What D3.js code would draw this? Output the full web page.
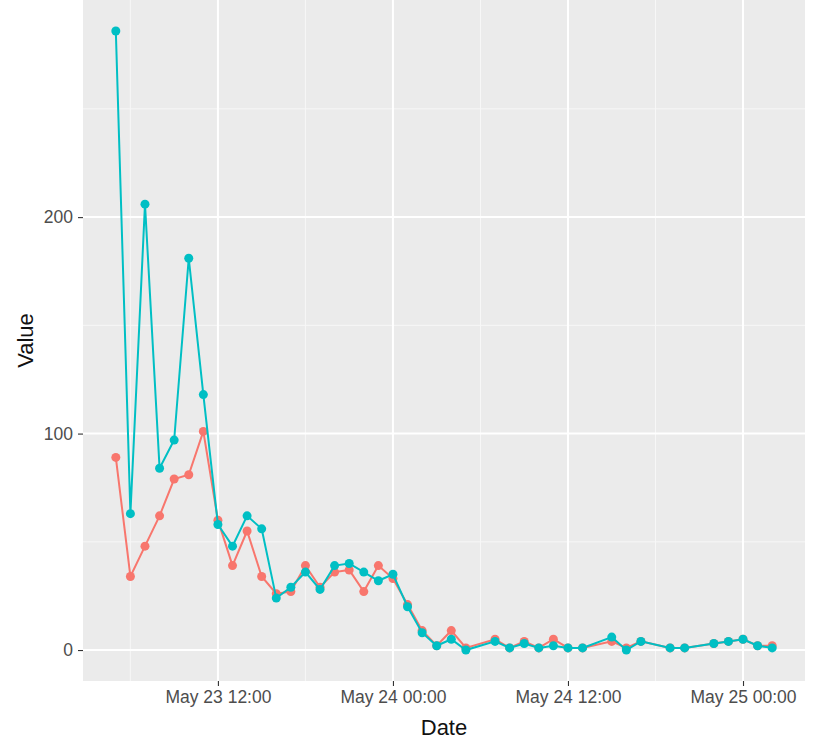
<!DOCTYPE html>
<html>
<head>
<meta charset="utf-8">
<script src="https://cdn.jsdelivr.net/npm/d3@7"></script>
<style>
  body { margin: 0; background: #fff; }
  svg { display: block; font-family: "Liberation Sans", Arial, sans-serif; }
</style>
</head>
<body>
<script>
var width = 813, height = 742;

// hourly readings, a few hours are missing
var times = [
  "2019-05-23 05:00", "2019-05-23 06:00", "2019-05-23 07:00", "2019-05-23 08:00",
  "2019-05-23 09:00", "2019-05-23 10:00", "2019-05-23 11:00", "2019-05-23 12:00",
  "2019-05-23 13:00", "2019-05-23 14:00", "2019-05-23 15:00", "2019-05-23 16:00",
  "2019-05-23 17:00", "2019-05-23 18:00", "2019-05-23 19:00", "2019-05-23 20:00",
  "2019-05-23 21:00", "2019-05-23 22:00", "2019-05-23 23:00", "2019-05-24 00:00",
  "2019-05-24 01:00", "2019-05-24 02:00", "2019-05-24 03:00", "2019-05-24 04:00",
  "2019-05-24 05:00", "2019-05-24 07:00", "2019-05-24 08:00", "2019-05-24 09:00",
  "2019-05-24 10:00", "2019-05-24 11:00", "2019-05-24 12:00", "2019-05-24 13:00",
  "2019-05-24 15:00", "2019-05-24 16:00", "2019-05-24 17:00", "2019-05-24 19:00",
  "2019-05-24 20:00", "2019-05-24 22:00", "2019-05-24 23:00", "2019-05-25 00:00",
  "2019-05-25 01:00", "2019-05-25 02:00"
];
var seriesRed = [
  89, 34, 48, 62, 79, 81, 101, 60, 39, 55, 34, 26, 27, 39, 29, 36, 37, 27, 39, 33,
  21, 9, 2, 9, 1, 5, 1, 4, 1, 5, 1, 1, 4, 1, 4, 1, 1, 3, 4, 5, 2, 2
];
var seriesTeal = [
  286, 63, 206, 84, 97, 181, 118, 58, 48, 62, 56, 24, 29, 36, 28, 39, 40, 36, 32, 35,
  20, 8, 2, 5, 0, 4, 1, 3, 1, 2, 1, 1, 6, 0, 4, 1, 1, 3, 4, 5, 2, 1
];
var colors = ["#F8766D", "#00BFC4"];
var yTicks = [0, 100, 200];
var yMinor = [50, 150, 250];

var parse = d3.utcParse("%Y-%m-%d %H:%M");
var dates = times.map(parse);
var series = [seriesRed, seriesTeal].map(function(vals, i) {
  return { color: colors[i], points: vals.map(function(v, j) { return { t: dates[j], v: v }; }) };
});

var panel = { left: 83, top: 0, right: 805, bottom: 681 };

// ggplot style 5% expansion
var tExt = d3.extent(dates);
var tPad = (tExt[1] - tExt[0]) * 0.05;
var allVals = seriesRed.concat(seriesTeal);
var vExt = d3.extent(allVals);
var vPad = (vExt[1] - vExt[0]) * 0.05;

var x = d3.scaleUtc()
  .domain([new Date(+tExt[0] - tPad), new Date(+tExt[1] + tPad)])
  .range([panel.left, panel.right]);
var y = d3.scaleLinear()
  .domain([vExt[0] - vPad, vExt[1] + vPad])
  .range([panel.bottom, panel.top]);

var svg = d3.select("body").append("svg")
  .attr("width", width)
  .attr("height", height);

svg.append("rect")
  .attr("x", panel.left).attr("y", panel.top)
  .attr("width", panel.right - panel.left)
  .attr("height", panel.bottom - panel.top)
  .attr("fill", "#EBEBEB");

var xMajor = d3.utcHour.every(12).range(x.domain()[0], x.domain()[1]);
var xMinor = xMajor.map(function(d) { return d3.utcHour.offset(d, -6); })
  .filter(function(d) { return d >= x.domain()[0]; });
xMinor.push(d3.utcHour.offset(xMajor[xMajor.length - 1], 6));
xMinor = xMinor.filter(function(d) { return d <= x.domain()[1]; });

var grid = svg.append("g");
grid.selectAll("line.minx").data(xMinor).enter().append("line")
  .attr("x1", function(d) { return x(d); }).attr("x2", function(d) { return x(d); })
  .attr("y1", panel.top).attr("y2", panel.bottom)
  .attr("stroke", "#F7F7F7").attr("stroke-width", 1);
grid.selectAll("line.miny").data(yMinor).enter().append("line")
  .attr("y1", function(d) { return y(d); }).attr("y2", function(d) { return y(d); })
  .attr("x1", panel.left).attr("x2", panel.right)
  .attr("stroke", "#F7F7F7").attr("stroke-width", 1);
grid.selectAll("line.majx").data(xMajor).enter().append("line")
  .attr("x1", function(d) { return x(d); }).attr("x2", function(d) { return x(d); })
  .attr("y1", panel.top).attr("y2", panel.bottom)
  .attr("stroke", "#fff").attr("stroke-width", 2);
grid.selectAll("line.majy").data(yTicks).enter().append("line")
  .attr("y1", function(d) { return y(d); }).attr("y2", function(d) { return y(d); })
  .attr("x1", panel.left).attr("x2", panel.right)
  .attr("stroke", "#fff").attr("stroke-width", 2);

// axes
var xAxis = svg.append("g")
  .attr("transform", "translate(0," + panel.bottom + ")")
  .call(d3.axisBottom(x).tickValues(xMajor).tickFormat(d3.utcFormat("%b %d %H:%M"))
    .tickSize(5).tickPadding(5));
var yAxis = svg.append("g")
  .attr("transform", "translate(" + panel.left + ",0)")
  .call(d3.axisLeft(y).tickValues(yTicks).tickSize(5).tickPadding(5));

[xAxis, yAxis].forEach(function(ax) {
  ax.select(".domain").remove();
  ax.selectAll(".tick line").attr("stroke", "#333").attr("stroke-width", 1.1);
  ax.selectAll(".tick text").attr("fill", "#4D4D4D")
    .style("font-size", "17.5px").style("font-family", "'Liberation Sans', Arial, sans-serif");
});

svg.append("text")
  .attr("x", (panel.left + panel.right) / 2)
  .attr("y", 735)
  .attr("text-anchor", "middle")
  .style("font-size", "22px")
  .attr("fill", "#111")
  .text("Date");
svg.append("text")
  .attr("transform", "translate(33," + (panel.top + panel.bottom) / 2 + ") rotate(-90)")
  .attr("text-anchor", "middle")
  .style("font-size", "22px")
  .attr("fill", "#111")
  .text("Value");

var line = d3.line()
  .x(function(d) { return x(d.t); })
  .y(function(d) { return y(d.v); });

var groups = svg.selectAll("g.series").data(series).enter().append("g")
  .attr("class", "series");
groups.append("path")
  .attr("d", function(d) { return line(d.points); })
  .attr("fill", "none")
  .attr("stroke", function(d) { return d.color; })
  .attr("stroke-width", 2);
groups.selectAll("circle")
  .data(function(d) { return d.points.map(function(p) { return { t: p.t, v: p.v, color: d.color }; }); })
  .enter().append("circle")
  .attr("cx", function(d) { return x(d.t); })
  .attr("cy", function(d) { return y(d.v); })
  .attr("r", 4.5)
  .attr("fill", function(d) { return d.color; });
</script>
</body>
</html>
